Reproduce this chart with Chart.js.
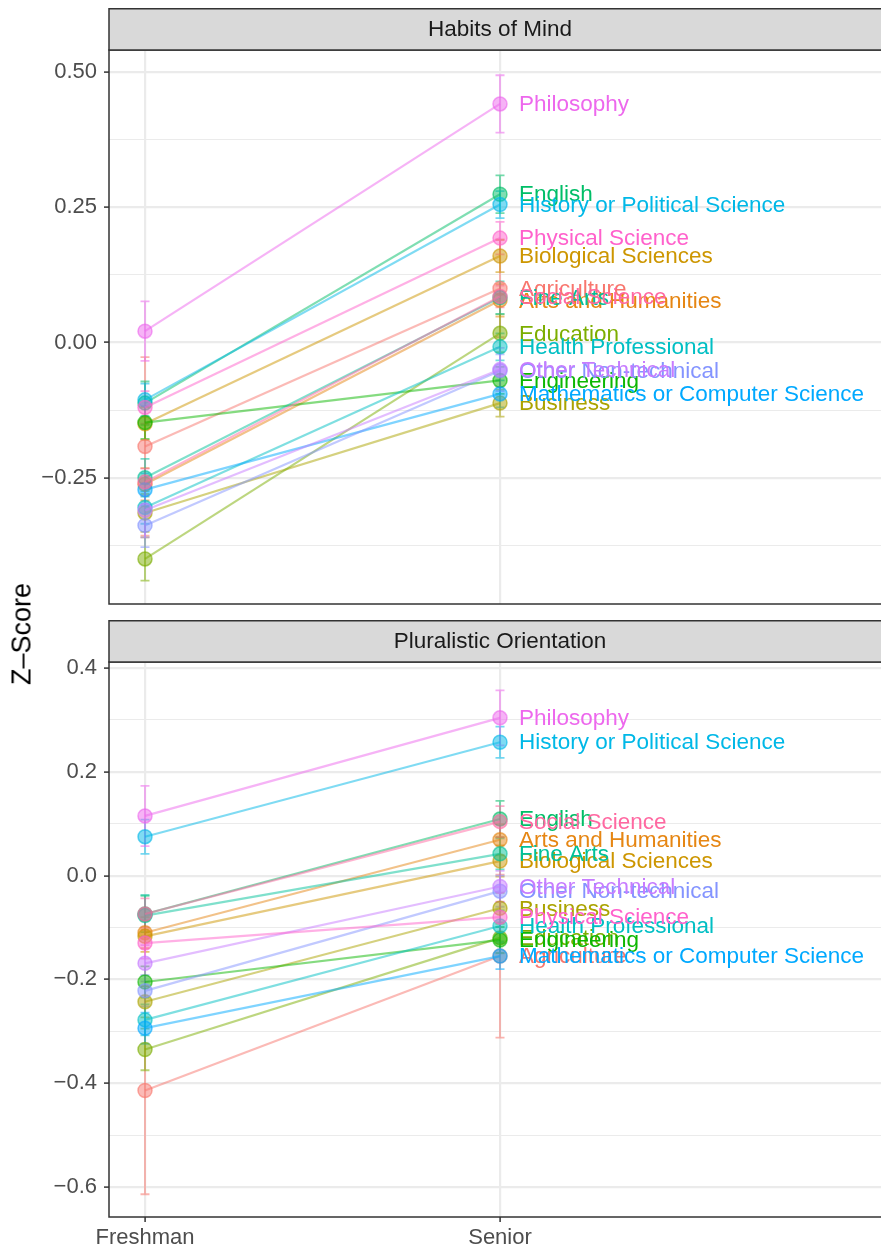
<!DOCTYPE html>
<html><head><meta charset="utf-8">
<script src="https://cdn.jsdelivr.net/npm/chart.js@4.4.0/dist/chart.umd.min.js"></script>
<style>
html,body{margin:0;padding:0;background:#fff;}
body{width:881px;height:1249px;position:relative;overflow:hidden;font-family:"Liberation Sans",Arial,Helvetica,sans-serif;}
.wrap{position:absolute;left:0;width:895px;}
#ylab{position:absolute;left:22px;top:634px;transform:translate(-50%,-50%) rotate(-90deg);font-size:27px;color:#000;white-space:nowrap;}
</style></head><body>
<div class="wrap" style="top:8px;height:620px"><canvas id="c1" width="895" height="620"></canvas></div>
<div class="wrap" style="top:620px;height:629px"><canvas id="c2" width="895" height="629"></canvas></div>
<div id="ylab">Z–Score</div>
<script>
// ---------------- data ----------------
const categories = ["Agriculture","Arts and Humanities","Biological Sciences","Business","Education","Engineering","English","Fine Arts","Health Professional","History or Political Science","Mathematics or Computer Science","Other Non-technical","Other Technical","Philosophy","Physical Science","Social Science"];
const xLabels = ["Freshman","Senior"];
const facetTitles = ["Habits of Mind","Pluralistic Orientation"];

const habitsFreshman   = [-0.192,-0.262,-0.150,-0.315,-0.400,-0.148,-0.112,-0.250,-0.305,-0.106,-0.272,-0.338,-0.310, 0.021,-0.120,-0.258];
const habitsSenior     = [ 0.100, 0.078, 0.160,-0.112, 0.017,-0.070, 0.274, 0.083,-0.008, 0.255,-0.095,-0.052,-0.050, 0.441, 0.193, 0.085];
const habitsFreshmanSE = [ 0.165, 0.030, 0.030, 0.035, 0.040, 0.030, 0.040, 0.035, 0.030, 0.030, 0.030, 0.040, 0.050, 0.055, 0.030, 0.025];
const habitsSeniorSE   = [ 0.090, 0.030, 0.030, 0.025, 0.035, 0.025, 0.035, 0.030, 0.025, 0.025, 0.025, 0.030, 0.040, 0.053, 0.030, 0.020];

const pluralFreshman   = [-0.414,-0.110,-0.117,-0.243,-0.335,-0.205,-0.074,-0.077,-0.278, 0.075,-0.294,-0.222,-0.169, 0.115,-0.130,-0.074];
const pluralSenior     = [-0.155, 0.069, 0.028,-0.063,-0.120,-0.124, 0.109, 0.042,-0.097, 0.257,-0.155,-0.030,-0.021, 0.304,-0.080, 0.104];
const pluralFreshmanSE = [ 0.200, 0.030, 0.030, 0.030, 0.040, 0.030, 0.035, 0.040, 0.030, 0.033, 0.030, 0.030, 0.035, 0.058, 0.030, 0.030];
const pluralSeniorSE   = [ 0.157, 0.030, 0.030, 0.030, 0.030, 0.025, 0.035, 0.030, 0.030, 0.030, 0.025, 0.030, 0.030, 0.053, 0.030, 0.030];

const habitsMajorTicks = [0.5, 0.25, 0, -0.25];
const habitsMinorTicks = [0.375, 0.125, -0.125, -0.375];
const pluralMajorTicks = [0.4, 0.2, 0, -0.2, -0.4, -0.6];
const pluralMinorTicks = [0.3, 0.1, -0.1, -0.3, -0.5];

const palette = ["#F8766D","#E68613","#CD9600","#ABA300","#7CAE00","#0CB702","#00BE67","#00C19A","#00BFC4","#00B8E7","#00A9FF","#8494FF","#C77CFF","#ED68ED","#FF61CC","#FF68A1"];

// ---------------- drawing ----------------
const FONT = '"Liberation Sans", Arial, Helvetica, sans-serif';
const AXIS_W = 109, RIGHT_PAD = 4, STRIP_H = 42;
const X_MIN = 0.8986, X_MAX = 3.1014, LABEL_X = 2.0535;

function hexA(hex, a){const n=parseInt(hex.slice(1),16);return `rgba(${(n>>16)&255},${(n>>8)&255},${n&255},${a})`;}
function fmt(v, d){const s=Math.abs(v).toFixed(d);return (v<-1e-9?'\u2212':'')+s;}

function makeChart(id, title, fresh, senior, freshSE, seniorSE, majors, minors, yMin, yMax, decimals, showX){
  const isMajor = v => majors.some(m => Math.abs(m - v) < 1e-9);
  const datasets = categories.map((c,i)=>({
    label:c,
    data:[{x:1,y:fresh[i]},{x:2,y:senior[i]}],
    se:[freshSE[i], seniorSE[i]],
    showLine:true, fill:false, tension:0,
    borderColor:hexA(palette[i],0.5), borderWidth:2.2,
    pointRadius:7, pointBackgroundColor:hexA(palette[i],0.5),
    pointBorderColor:hexA(palette[i],0.6), pointBorderWidth:1.5,
    order: categories.length - i
  }));
  const errorBars = {
    id:'errorBars',
    beforeDatasetsDraw(chart){
      const {ctx, scales:{x, y}} = chart;
      ctx.save();
      chart.data.datasets.forEach((ds,i)=>{
        ds.data.forEach((p,j)=>{
          const px = x.getPixelForValue(p.x);
          const lo = y.getPixelForValue(p.y - ds.se[j]);
          const hi = y.getPixelForValue(p.y + ds.se[j]);
          ctx.strokeStyle = hexA(palette[i],0.55); ctx.lineWidth = 1.8;
          ctx.beginPath();
          ctx.moveTo(px,lo); ctx.lineTo(px,hi);
          ctx.moveTo(px-4.5,lo); ctx.lineTo(px+4.5,lo);
          ctx.moveTo(px-4.5,hi); ctx.lineTo(px+4.5,hi);
          ctx.stroke();
        });
      });
      ctx.restore();
    }
  };
  const labelsAndFrame = {
    id:'labelsAndFrame',
    afterDatasetsDraw(chart){
      const {ctx, scales:{x, y}} = chart;
      ctx.save();
      ctx.font = `22.5px ${FONT}`; ctx.textAlign='left'; ctx.textBaseline='middle';
      chart.data.datasets.forEach((ds,i)=>{
        ctx.fillStyle = palette[i];
        ctx.fillText(ds.label, x.getPixelForValue(LABEL_X), y.getPixelForValue(ds.data[1].y)+1);
      });
      ctx.restore();
    },
    afterDraw(chart){
      const {ctx, chartArea:a} = chart;
      ctx.save();
      ctx.strokeStyle='#333333'; ctx.lineWidth=1.5;
      ctx.strokeRect(a.left, a.top, a.right-a.left, a.bottom-a.top);
      ctx.fillStyle='#D9D9D9';
      ctx.fillRect(a.left, 0.75, a.right-a.left, STRIP_H-0.75);
      ctx.strokeRect(a.left, 0.75, a.right-a.left, STRIP_H-0.75);
      ctx.fillStyle='#1A1A1A'; ctx.font=`22.5px ${FONT}`; ctx.textAlign='center'; ctx.textBaseline='middle';
      ctx.fillText(title, (a.left+a.right)/2, STRIP_H/2+1);
      ctx.restore();
    }
  };
  return new Chart(document.getElementById(id), {
    type:'scatter',
    data:{datasets},
    plugins:[errorBars, labelsAndFrame],
    options:{
      responsive:false, animation:false, events:[],
      layout:{padding:{left:0,right:RIGHT_PAD,top:STRIP_H,bottom:0}, autoPadding:false},
      plugins:{legend:{display:false}, tooltip:{enabled:false}},
      scales:{
        x:{
          type:'linear', min:X_MIN, max:X_MAX,
          afterBuildTicks: s => { s.ticks = [1,2].map(v=>({value:v})); },
          afterFit: s => { s.height = showX ? 32 : 24; },
          border:{display:false},
          grid:{color:'#EBEBEB', lineWidth:2.2, drawTicks:showX, tickLength:5, tickColor:'#333333', tickWidth:1.5},
          ticks:{display:showX, autoSkip:false, maxRotation:0, padding:3, color:'#4D4D4D', font:{family:FONT,size:22},
                 callback: v => xLabels[Math.round(v)-1]}
        },
        y:{
          type:'linear', min:yMin, max:yMax,
          afterBuildTicks: s => { s.ticks = majors.concat(minors).sort((a,b)=>a-b).map(v=>({value:v})); },
          afterFit: s => { s.width = AXIS_W; },
          border:{display:false},
          grid:{
            color:'#EBEBEB',
            lineWidth: c => isMajor(c.tick.value) ? 2.2 : 1.1,
            drawTicks:true, tickLength:5, tickWidth:1.5,
            tickColor: c => isMajor(c.tick.value) ? '#333333' : 'rgba(0,0,0,0)'
          },
          ticks:{autoSkip:false, padding:7, color:'#4D4D4D', font:{family:FONT,size:22},
                 callback: v => isMajor(v) ? fmt(v, decimals) : ''}
        }
      }
    }
  });
}

makeChart('c1', facetTitles[0], habitsFreshman, habitsSenior, habitsFreshmanSE, habitsSeniorSE,
          habitsMajorTicks, habitsMinorTicks, -0.4833, 0.5407, 2, false);
makeChart('c2', facetTitles[1], pluralFreshman, pluralSenior, pluralFreshmanSE, pluralSeniorSE,
          pluralMajorTicks, pluralMinorTicks, -0.6578, 0.4116, 1, true);
</script>
</body></html>
